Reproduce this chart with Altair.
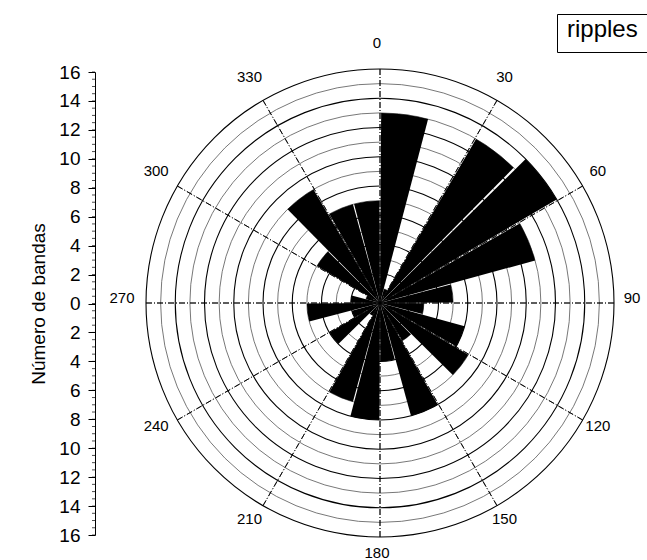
import math
import altair as alt
import pandas as pd

# Orientation classes (start of each 15-degree sector, clockwise from north)
sector_start = list(range(0, 360, 15))
# Number of bands counted in each sector
band_counts = [13, 1, 13, 14, 11, 5, 3, 6, 7, 3, 8, 4,
               8, 7, 1, 4, 2, 5, 2, 1, 5, 9, 7, 7]
sector_width = 15

# Grid and axis definitions
ring_radii = list(range(1, 17))
spoke_angles = list(range(0, 360, 30))
axis_values = list(range(-16, 17, 2))
minor_values = [v / 2 for v in range(-32, 33)]

FONT = "Liberation Sans"
CX, CY = 285, 231          # pole of the rose inside the plot area
R_OUTER = 234              # pixel radius of the 16-band ring

bars = pd.DataFrame({
    "start": sector_start,
    "end": [s + sector_width for s in sector_start],
    "count": band_counts,
    "serie": ["ripples"] * len(sector_start),
})
rings = pd.DataFrame({
    "r": ring_radii,
    "t0": [0] * len(ring_radii),
    "t1": [360] * len(ring_radii),
    "kind": ["major" if r % 2 == 0 else "minor" for r in ring_radii],
})
spokes = pd.DataFrame({"a": spoke_angles, "r": [max(ring_radii)] * len(spoke_angles)})
minor = pd.DataFrame({"v": minor_values})

theta_scale = alt.Scale(type="linear", domain=[0, 360], range=[0, 2 * math.pi])
radius_scale = alt.Scale(type="linear", domain=[0, 16], range=[0, R_OUTER])
center = dict(x=alt.value(CX), y=alt.value(CY))

# Left radial axis (mirrored 16 .. 0 .. 16) carried by the minor tick layer
axis_layer = alt.Chart(minor).mark_tick(
    orient="horizontal", color="black", size=3, thickness=1
).encode(
    y=alt.Y(
        "v:Q",
        scale=alt.Scale(domain=[-16, 16]),
        axis=alt.Axis(
            values=axis_values,
            labelExpr="'' + abs(datum.value)",
            title="Número de bandas",
            grid=False,
            domainColor="black",
            domainWidth=1,
            tickColor="black",
            tickSize=7,
            labelFont=FONT,
            labelFontSize=19,
            labelColor="black",
            labelPadding=8,
            titleFont=FONT,
            titleFontSize=19,
            titleFontWeight="normal",
            titleColor="black",
            titlePadding=10,
        ),
    ),
    x=alt.value(-1.5),
)

# Concentric rings: solid on even counts, dashed on odd counts
ring_layer = alt.Chart(rings).mark_arc(filled=False).encode(
    theta=alt.Theta("t0:Q", scale=theta_scale, stack=False),
    theta2=alt.Theta2("t1:Q"),
    radius=alt.Radius("r:Q", scale=radius_scale),
    stroke=alt.Stroke(
        "kind:N",
        scale=alt.Scale(domain=["major", "minor"], range=["#000000", "#555555"]),
        legend=None,
    ),
    strokeWidth=alt.StrokeWidth(
        "kind:N",
        scale=alt.Scale(domain=["major", "minor"], range=[1.1, 0.8]),
        legend=None,
    ),
    strokeDash=alt.StrokeDash(
        "kind:N",
        scale=alt.Scale(domain=["major", "minor"], range=[[1, 0], [4, 3]]),
        legend=None,
    ),
    **center,
)

spoke_layer = alt.Chart(spokes).mark_arc(
    filled=False, stroke="black", strokeWidth=0.8, strokeDash=[6, 2, 1, 2]
).encode(
    theta=alt.Theta("a:Q", scale=theta_scale, stack=False),
    theta2=alt.Theta2("a:Q"),
    radius=alt.Radius("r:Q", scale=radius_scale),
    **center,
)

bar_layer = alt.Chart(bars).mark_arc(padAngle=0.012, stroke=None).encode(
    theta=alt.Theta("start:Q", scale=theta_scale, stack=False),
    theta2=alt.Theta2("end:Q"),
    radius=alt.Radius("count:Q", scale=radius_scale),
    color=alt.Color(
        "serie:N",
        scale=alt.Scale(range=["black"]),
        legend=alt.Legend(
            title="ripples",
            titleOrient="left",
            titleFont=FONT,
            titleFontSize=24,
            titleFontWeight="normal",
            titleColor="black",
            titlePadding=30,
            orient="none",
            legendX=462,
            legendY=-58,
            symbolOpacity=0,
            labelExpr="''",
            strokeColor="black",
            fillColor="white",
            padding=10,
        ),
    ),
    **center,
)

label_layer = alt.Chart(spokes).mark_text(
    font=FONT, fontSize=15, color="black", align="center", baseline="middle"
).encode(
    theta=alt.Theta("a:Q", scale=theta_scale, stack=False),
    radius=alt.value(255),
    text=alt.Text("a:Q"),
    x=alt.value(CX - 3),
    y=alt.value(CY - 5),
)

chart = alt.layer(
    axis_layer, ring_layer, spoke_layer, bar_layer, label_layer
).properties(
    width=552,
    height=463,
    padding={"left": 95, "top": 72, "right": 0, "bottom": 25},
    autosize="none",
    background="white",
).configure_view(stroke=None)

chart.save("out.html", embed_options={"renderer": "svg", "actions": False})
